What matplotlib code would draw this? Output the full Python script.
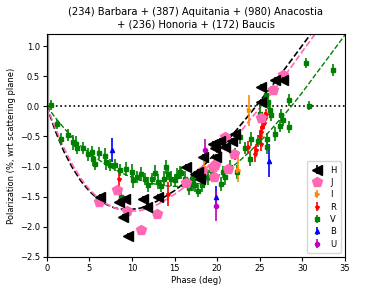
import matplotlib
matplotlib.use("Agg")
import matplotlib.pyplot as plt

# ---- fitted phase curves ----
curve_phase = list(range(0, 36))
black_fit = [0, -0.41, -0.75, -1.02, -1.24, -1.41, -1.54, -1.63, -1.69, -1.71, -1.71,
             -1.69, -1.64, -1.57, -1.49, -1.40, -1.29, -1.17, -1.04, -0.90, -0.75,
             -0.60, -0.44, -0.27, -0.10, 0.08, 0.26, 0.44, 0.63, 0.82, 1.01, 1.20,
             1.40, 1.60, 1.80, 2.00]
pink_fit = [0, -0.36, -0.69, -0.97, -1.20, -1.38, -1.52, -1.62, -1.69, -1.73, -1.74,
            -1.73, -1.69, -1.63, -1.55, -1.46, -1.36, -1.25, -1.12, -0.99, -0.85,
            -0.70, -0.54, -0.38, -0.20, -0.03, 0.15, 0.33, 0.52, 0.71, 0.91, 1.10,
            1.30, 1.50, 1.70, 1.90]
green_fit = [0, -0.19, -0.36, -0.52, -0.66, -0.78, -0.88, -0.97, -1.05, -1.12, -1.18,
             -1.23, -1.27, -1.30, -1.32, -1.33, -1.33, -1.31, -1.28, -1.23, -1.16,
             -1.08, -0.98, -0.86, -0.73, -0.59, -0.44, -0.28, -0.12, 0.05, 0.23,
             0.42, 0.61, 0.80, 0.99, 1.18]

# ---- observations ----
H_x = [6.2, 8.5, 9.15, 8.95, 9.55, 11.3, 11.8, 13.1, 16.4, 17.4, 17.8, 18.0, 18.35,
       19.5, 19.7, 19.9, 20.3, 20.9, 21.7, 22.1, 25.2, 25.2, 26.8, 27.75]
H_y = [-1.51, -1.59, -1.54, -1.84, -2.15, -1.54, -1.67, -1.51, -1.01, -1.12, -1.09,
       -1.20, -0.84, -0.62, -0.70, -0.84, -0.57, -0.68, -0.57, -0.46, 0.32, 0.07,
       0.43, 0.43]
H_e = [0.05] * len(H_x)

J_x = [6.15, 8.25, 9.4, 11.1, 12.95, 16.4, 18.2, 19.5, 19.6, 19.7, 20.9, 21.3, 22.0,
       25.2, 26.6, 27.7]
J_y = [-1.59, -1.39, -1.73, -2.06, -1.79, -1.28, -1.07, -1.01, -1.18, -0.98, -0.51,
       -1.04, -0.79, -0.20, 0.27, 0.52]
J_e = [0.05] * len(J_x)

I_x = [18.5, 22.45, 23.75]
I_y = [-1.00, -1.05, -0.07]
I_e = [0.10, 0.20, 0.25]

R_x = [8.5, 14.2, 23.65, 24.4, 24.6, 25.0, 25.1, 25.2, 25.3, 25.45, 25.6, 25.75]
R_y = [-1.20, -1.46, -0.68, -0.79, -0.72, -0.50, -0.42, -0.62, -0.35, -0.28, -0.20, -0.12]
R_e = [0.17, 0.20, 0.10, 0.13, 0.10, 0.10, 0.10, 0.12, 0.10, 0.10, 0.10, 0.08]

V_x = [0.5, 1.2, 1.7, 2.5, 3.1, 3.4, 3.6, 4.3, 4.8, 5.25, 5.45, 5.6, 6.1, 6.8, 7.0,
       7.4, 8.0, 8.6, 8.7, 9.3, 10.0, 10.1, 10.6, 11.0, 11.5, 11.9, 12.3, 12.7, 13.0,
       13.4, 13.8, 14.05, 14.25, 14.6, 15.0, 15.3, 15.6, 15.8, 16.2, 16.7, 17.0, 17.2,
       17.4, 17.8, 18.2, 18.95, 19.3, 20.5, 20.7, 20.9, 21.5, 22.1, 22.3, 22.7, 23.25,
       23.85, 24.0, 24.8, 25.0, 25.7, 25.8, 25.8, 26.0, 26.2, 26.3, 26.8, 27.4, 27.55,
       27.7, 28.45, 28.5, 30.4, 30.8, 33.6]
V_y = [0.02, -0.30, -0.54, -0.48, -0.60, -0.62, -0.70, -0.70, -0.80, -0.76, -0.87,
       -0.95, -0.78, -0.82, -0.93, -0.97, -0.98, -1.06, -1.50, -1.04, -1.09, -1.23,
       -1.18, -1.12, -1.20, -1.30, -1.20, -1.10, -1.25, -1.33, -1.20, -1.01, -1.12,
       -1.20, -1.23, -1.15, -1.09, -1.10, -1.20, -1.35, -1.20, -1.29, -1.30, -1.40,
       -1.30, -1.18, -1.05, -1.29, -1.09, -1.18, -1.01, -0.79, -1.09, -0.51, -0.70,
       -0.87, -0.54, -0.57, -0.12, 0.18, -0.68, -0.54, 0.07, -0.07, -0.15, -0.46,
       -0.32, -0.15, -0.23, 0.10, -0.34, 0.72, 0.01, 0.61]
V_e = [0.08, 0.08, 0.10, 0.10, 0.12, 0.12, 0.10, 0.10, 0.10, 0.10, 0.12, 0.10, 0.10,
       0.12, 0.12, 0.10, 0.10, 0.10, 0.15, 0.12, 0.13, 0.12, 0.10, 0.12, 0.10, 0.12,
       0.10, 0.12, 0.12, 0.10, 0.12, 0.12, 0.10, 0.12, 0.10, 0.12, 0.10, 0.10, 0.12,
       0.12, 0.10, 0.12, 0.12, 0.10, 0.12, 0.12, 0.10, 0.12, 0.10, 0.12, 0.12, 0.10,
       0.12, 0.12, 0.10, 0.12, 0.12, 0.10, 0.12, 0.10, 0.12, 0.10, 0.12, 0.12, 0.10,
       0.12, 0.10, 0.10, 0.10, 0.10, 0.10, 0.08, 0.08, 0.10]

B_x = [7.6, 19.9, 26.1]
B_y = [-0.73, -1.50, -0.90]
B_e = [0.20, 0.17, 0.27]

U_x = [18.55, 19.9]
U_y = [-0.73, -1.65]
U_e = [0.18, 0.25]

title = "(234) Barbara + (387) Aquitania + (980) Anacostia\n+ (236) Honoria + (172) Baucis"

fig = plt.figure(figsize=(3.84, 2.88), dpi=100)
ax = fig.add_axes([0.122, 0.108, 0.776, 0.774])

ax.axvline(0, color='0.6', lw=2.5, zorder=0)
ax.axhline(0, color='black', ls=':', lw=1.2, zorder=1)

ax.plot(curve_phase, black_fit, color='black', ls='--', lw=1.2, zorder=2)
ax.plot(curve_phase, pink_fit, color='hotpink', ls='--', lw=1.2, zorder=2)
ax.plot(curve_phase, green_fit, color='green', ls='--', lw=1.0, zorder=2)

ax.errorbar(V_x, V_y, yerr=V_e, fmt='s', color='green', ms=3, lw=1.2, label='V', zorder=3)
ax.errorbar(R_x, R_y, yerr=R_e, fmt='*', color='red', ms=3, lw=1.2, label='R', zorder=3)
ax.errorbar(I_x, I_y, yerr=I_e, fmt='>', color='darkorange', ms=3, lw=1.2, label='I', zorder=3)
ax.errorbar(B_x, B_y, yerr=B_e, fmt='^', color='blue', ms=3, lw=1.2, label='B', zorder=3)
ax.errorbar(U_x, U_y, yerr=U_e, fmt='o', color='m', ms=3, lw=1.2, label='U', zorder=3)
ax.errorbar(J_x, J_y, yerr=J_e, fmt='p', color='hotpink', ms=7, lw=1.2, label='J', zorder=4)
ax.errorbar(H_x, H_y, yerr=H_e, fmt='<', color='black', ms=7, lw=1.2, label='H', zorder=5)

ax.set_xlim(0, 35)
ax.set_ylim(-2.5, 1.2)
ax.set_xticks([0, 5, 10, 15, 20, 25, 30, 35])
ax.set_yticks([-2.5, -2.0, -1.5, -1.0, -0.5, 0.0, 0.5, 1.0])
ax.tick_params(labelsize=6, length=3, pad=2)
ax.set_xlabel('Phase (deg)', fontsize=6, labelpad=2)
ax.set_ylabel('Polarization (%, wrt scattering plane)', fontsize=6, labelpad=3)
ax.set_title(title, fontsize=7.2, pad=5)

handles, labels = ax.get_legend_handles_labels()
order = ['H', 'J', 'I', 'R', 'V', 'B', 'U']
hmap = dict(zip(labels, handles))
ax.legend([hmap[k] for k in order], order, loc='lower right', fontsize=6,
          markerscale=1.0, labelspacing=0.4, handlelength=1.5, borderpad=0.5)

fig.savefig('out.png', dpi=100)
